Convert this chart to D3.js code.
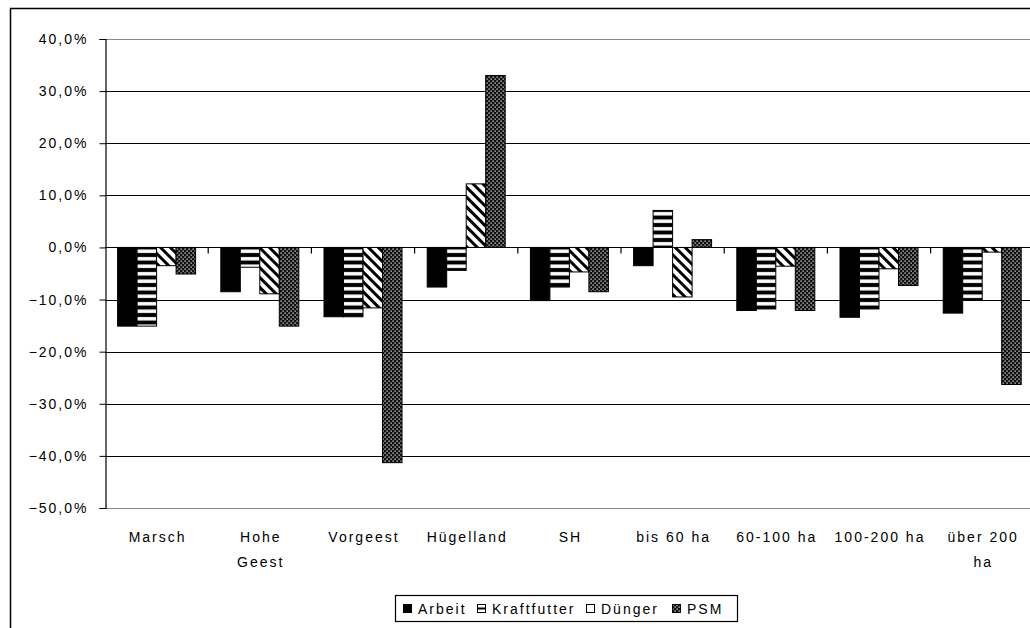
<!DOCTYPE html>
<html><head><meta charset="utf-8">
<script src="https://cdn.jsdelivr.net/npm/d3@7"></script>
<style>body{margin:0;background:#fff}svg{display:block}text{font-family:"Liberation Sans",Arial,sans-serif;fill:#000}</style>
</head><body>
<svg id="c" width="1030" height="628"></svg>
<script>
const categories = [["Marsch"],["Hohe","Geest"],["Vorgeest"],["Hügelland"],["SH"],["bis 60 ha"],["60-100 ha"],["100-200 ha"],["über 200","ha"]];
const seriesNames = ["Arbeit","Kraftfutter","Dünger","PSM"];
const arbeit      = [-15.1, -8.5, -13.3, -7.6, -10.2, -3.5, -12.1, -13.4, -12.6];
const kraftfutter = [-15.1, -3.8, -13.3, -4.4,  -7.6,  7.1, -11.8, -11.8, -10.1];
const duenger     = [ -3.5, -8.9, -11.6, 12.2,  -4.7, -9.5,  -3.6,  -4.1,  -0.9];
const psm         = [ -5.1,-15.1, -41.3, 33.0,  -8.5,  1.5, -12.1,  -7.3, -26.3];
const yTicks = [40,30,20,10,0,-10,-20,-30,-40,-50];
const series = [arbeit, kraftfutter, duenger, psm];

const svg = d3.select("#c");
const defs = svg.append("defs");
const pK = defs.append("pattern").attr("id","pK").attr("patternUnits","userSpaceOnUse").attr("width",8).attr("height",7.5);
pK.append("rect").attr("width",8).attr("height",7.5).attr("fill","#000");
pK.append("rect").attr("y",2).attr("width",8).attr("height",3.5).attr("fill","#fff");
const pD = defs.append("pattern").attr("id","pD").attr("patternUnits","userSpaceOnUse").attr("width",7).attr("height",7).attr("patternTransform","rotate(-45)");
pD.append("rect").attr("width",7).attr("height",7).attr("fill","#fff");
pD.append("rect").attr("width",3).attr("height",7).attr("fill","#000");
const pP = defs.append("pattern").attr("id","pP").attr("patternUnits","userSpaceOnUse").attr("width",4).attr("height",4);
pP.append("rect").attr("width",4).attr("height",4).attr("fill","#111");
pP.append("rect").attr("x",0.5).attr("y",0.5).attr("width",1.2).attr("height",1.2).attr("fill","#fff");
pP.append("rect").attr("x",2.5).attr("y",2.5).attr("width",1.2).attr("height",1.2).attr("fill","#fff");
const fills = ["#000","url(#pK)","url(#pD)","url(#pP)"];

svg.append("rect").attr("x",10.5).attr("y",8.5).attr("width",1100).attr("height",700).attr("fill","none").attr("stroke","#000").attr("stroke-width",1.5);

const left = 105, bandW = 103.2;
const x0 = d3.scaleBand().domain(d3.range(categories.length)).range([left, left + bandW*categories.length]).padding(0);
const groupW = 78;
const x1 = d3.scaleBand().domain(d3.range(4)).range([(bandW-groupW)/2, (bandW+groupW)/2]).padding(0);
const y = d3.scaleLinear().domain([-50,40]).range([508,39]);

svg.append("g").selectAll("line").data(yTicks).join("line")
  .attr("x1",left).attr("x2",1030).attr("y1",d=>Math.round(y(d))+0.5).attr("y2",d=>Math.round(y(d))+0.5)
  .attr("stroke",d=>(d===40||d===-50)?"#888":"#000").attr("stroke-width",1.2);

const g = svg.append("g");
categories.forEach((c,i)=>{
  series.forEach((s,j)=>{
    const v = s[i];
    g.append("rect")
      .attr("x", x0(i)+x1(j))
      .attr("y", y(Math.max(0,v)))
      .attr("width", x1.bandwidth())
      .attr("height", Math.abs(y(v)-y(0)))
      .attr("fill", fills[j]).attr("stroke","#000").attr("stroke-width",1);
  });
});

const yAxis = d3.axisLeft(y).tickValues(yTicks).tickSize(6).tickPadding(13).tickFormat(d=>d3.format(".1f")(d).replace(".",",")+"%");
const ya = svg.append("g").attr("transform",`translate(${left+0.5},0)`).call(yAxis);
ya.select(".domain").attr("stroke","#000").attr("stroke-width",1.2);
ya.selectAll("text").style("font-size","14px").style("letter-spacing","2px").attr("dx","2");

const xa = svg.append("g").attr("transform",`translate(0,${Math.round(y(0))+0.5})`);
xa.selectAll("line").data(d3.range(1,categories.length)).join("line")
  .attr("x1",d=>x0(d)).attr("x2",d=>x0(d)).attr("y1",0).attr("y2",6).attr("stroke","#000").attr("stroke-width",1.2);

const lab = svg.append("g");
categories.forEach((c,i)=>{
  const cx = x0(i)+bandW/2 + 1;
  const t = lab.append("text").attr("x",cx).attr("y",542).attr("text-anchor","middle").style("font-size","14px").style("letter-spacing","2px");
  c.forEach((line,k)=>t.append("tspan").attr("x",cx).attr("dy",k?25:0).text(line));
});

const leg = svg.append("g");
leg.append("rect").attr("x",395.5).attr("y",595.5).attr("width",342).attr("height",26).attr("fill","#fff").attr("stroke","#000").attr("stroke-width",1.2);
const legX = [403,477,586,672];
seriesNames.forEach((n,j)=>{
  leg.append("rect").attr("x",legX[j]+0.5).attr("y",604.5).attr("width",8).attr("height",8)
    .attr("fill", j===0?"#000":(j===3?"url(#pP)":"#fff")).attr("stroke","#000").attr("stroke-width",1);
  if(j===1) leg.append("rect").attr("x",legX[j]+0.5).attr("y",607.5).attr("width",8).attr("height",2).attr("fill","#000");
  leg.append("text").attr("x",legX[j]+15).attr("y",613.5).style("font-size","14px").style("letter-spacing","2px").text(n);
});
</script>
</body></html>
